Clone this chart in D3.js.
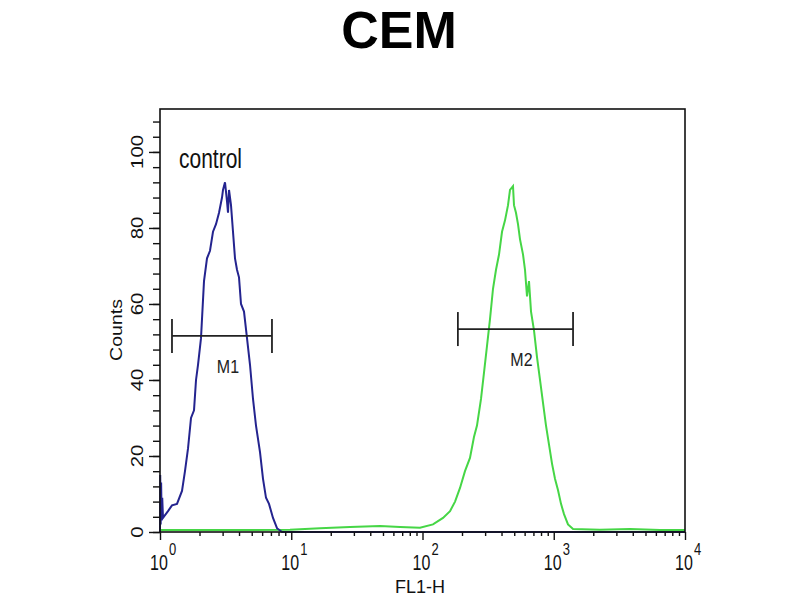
<!DOCTYPE html>
<html>
<head>
<meta charset="utf-8">
<script src="https://cdn.jsdelivr.net/npm/d3@7"></script>
<style>
  body { margin: 0; background: #fff; }
  text { font-family: "Liberation Sans", Arial, sans-serif; }
</style>
</head>
<body>
<script>
// control histogram (blue): FL1-H intensity and counts
var controlFL1 = [1.000, 1.004, 1.012, 1.020, 1.030, 1.040, 1.054, 1.151, 1.234, 1.347,
                  1.471, 1.550, 1.635, 1.723, 1.816, 1.881, 1.948, 2.053, 2.164, 2.281,
                  2.404, 2.534, 2.671, 2.816, 2.968, 3.020, 3.128, 3.240, 3.297, 3.356,
                  3.475, 3.599, 3.728, 3.861, 3.999, 4.142, 4.365, 4.601, 4.850, 5.112,
                  5.388, 5.780, 6.093, 6.422, 6.769, 7.261, 7.788, 8.502, 10000];
var controlCounts = [0, 15, 2, 13, 3, 9, 3.7, 5.5, 7, 7.4,
                     10.8, 16, 22, 30, 32, 40, 44, 51, 66, 72,
                     74, 79, 81, 84, 88, 90, 92, 87, 84, 90,
                     86, 79, 72, 69, 67, 60, 58, 51, 44, 35,
                     28, 21, 14, 9, 7.4, 3.7, 1, 0, 0];

// sample histogram (green)
var sampleFL1 = [1, 2.87, 9.78, 16.55, 28.0, 47.5, 67.4, 95.7, 120.2, 143.3,
                 162.1, 177.0, 193.1, 210.7, 230.0, 246.7, 260.1, 279.1, 294.3, 310.1,
                 326.8, 344.5, 363.1, 382.8, 403.5, 425.3, 448.3, 464.2, 489.3, 497.8,
                 515.4, 534.1, 553.4, 583.4, 603.9, 625.6, 647.8, 671.2, 707.5, 745.5,
                 785.8, 828.3, 873.0, 920.3, 970.0, 1022, 1078, 1136, 1197, 1284,
                 1403, 2250, 3811, 6456, 10000];
var sampleCounts = [0.5, 0.5, 0.6, 1.0, 1.3, 1.6, 1.3, 1.1, 2, 3.7,
                    5.5, 8, 11.6, 16, 19.5, 25, 28, 35, 42, 49,
                    56, 64, 69, 73, 79, 82, 86, 90, 91, 86,
                    84, 81, 77, 73, 69, 62, 66, 58, 53, 46,
                    40, 34, 28, 23, 18, 14, 11, 7.4, 4.7, 2,
                    0.8, 0.6, 0.8, 0.5, 0.5];

// M1 / M2 gates
var gateNames = ["M1", "M2"];
var gateFrom = [1.234, 186];
var gateTo = [7.13, 1403];
var gateLevel = [51.6, 53.4];

var yMajor = [0, 20, 40, 60, 80, 100];
var xDecades = [0, 1, 2, 3, 4];

var width = 800, height = 600;
var plot = { left: 160, right: 685, top: 109, bottom: 532 };

var svg = d3.select("body").append("svg")
  .attr("width", width)
  .attr("height", height);

var x = d3.scaleLog().domain([1, 10000]).range([plot.left, plot.right]);
var y = d3.scaleLinear().domain([0, 111.3]).range([plot.bottom, plot.top]);

// text helper: the picture is stretched vertically, so text is too
function label(str, px, py, size, k, opts) {
  opts = opts || {};
  var t = svg.append("text")
    .attr("transform", "translate(" + px + "," + py + ")" +
      (opts.rotate ? " rotate(-90) scale(" + k + ",1)" : " scale(1," + k + ")"))
    .attr("font-size", size)
    .attr("text-anchor", opts.anchor || "middle")
    .attr("fill", opts.fill || "#111")
    .text(str);
  if (opts.bold) t.attr("font-weight", "bold");
  return t;
}

// title
label("CEM", 399, 48, 52, 1, { bold: true, fill: "#000" });

// curves
var line = d3.line()
  .x(function(d) { return x(d[0]); })
  .y(function(d) { return y(d[1]); });

svg.append("path")
  .datum(d3.zip(sampleFL1, sampleCounts))
  .attr("d", line)
  .attr("fill", "none")
  .attr("stroke", "#46d646")
  .attr("stroke-width", 2);

svg.append("path")
  .datum(d3.zip(controlFL1, controlCounts))
  .attr("d", line)
  .attr("fill", "none")
  .attr("stroke", "#24248f")
  .attr("stroke-width", 2);

// axes ticks
var yMinor = d3.range(0, 111, 4);
svg.append("g")
  .attr("transform", "translate(" + plot.left + ",0)")
  .call(d3.axisLeft(y).tickValues(yMinor).tickSize(7).tickFormat(""))
  .call(function(g) { g.select(".domain").remove(); });
svg.append("g")
  .attr("transform", "translate(" + plot.left + ",0)")
  .call(d3.axisLeft(y).tickValues(yMajor).tickSize(11).tickFormat(""))
  .call(function(g) { g.select(".domain").remove(); });

var xMinor = x.ticks().filter(function(v) {
  return Math.abs(Math.log10(v) - Math.round(Math.log10(v))) > 1e-6;
});
svg.append("g")
  .attr("transform", "translate(0," + plot.bottom + ")")
  .call(d3.axisBottom(x).tickValues(xMinor).tickSize(4).tickFormat(""))
  .call(function(g) { g.select(".domain").remove(); });
svg.append("g")
  .attr("transform", "translate(0," + plot.bottom + ")")
  .call(d3.axisBottom(x).tickValues(xDecades.map(function(d) { return Math.pow(10, d); }))
    .tickSize(8).tickFormat(""))
  .call(function(g) { g.select(".domain").remove(); });

svg.selectAll(".tick line").attr("stroke", "#111").attr("stroke-width", 1.4);

// frame
svg.append("rect")
  .attr("x", plot.left)
  .attr("y", plot.top)
  .attr("width", plot.right - plot.left)
  .attr("height", plot.bottom - plot.top)
  .attr("fill", "none")
  .attr("stroke", "#111")
  .attr("stroke-width", 1.6);

// tick labels
yMajor.forEach(function(v) {
  label(v, 143, y(v), 17, 1.2, { rotate: true });
});
xDecades.forEach(function(d) {
  var px = x(Math.pow(10, d));
  label("10", px - 1, 570, 16, 1.4);
  label(d, px + 9, 555, 13, 1.3, { anchor: "start" });
});

label("Counts", 122, 330, 17, 1.15, { rotate: true });
label("FL1-H", 420, 593, 18, 1.05);
label("control", 179, 168, 21, 1.35, { anchor: "start" });

// gates
gateNames.forEach(function(name, i) {
  var x0 = x(gateFrom[i]), x1 = x(gateTo[i]), yy = y(gateLevel[i]);
  var g = svg.append("g").attr("stroke", "#222").attr("stroke-width", 1.8);
  g.append("line").attr("x1", x0).attr("x2", x1).attr("y1", yy).attr("y2", yy);
  g.append("line").attr("x1", x0).attr("x2", x0).attr("y1", yy - 17).attr("y2", yy + 17);
  g.append("line").attr("x1", x1).attr("x2", x1).attr("y1", yy - 17).attr("y2", yy + 17);
  label(name, (x0 + x1) / 2 + 6, yy + 37, 16, 1.2, { fill: "#222" });
});
</script>
</body>
</html>
